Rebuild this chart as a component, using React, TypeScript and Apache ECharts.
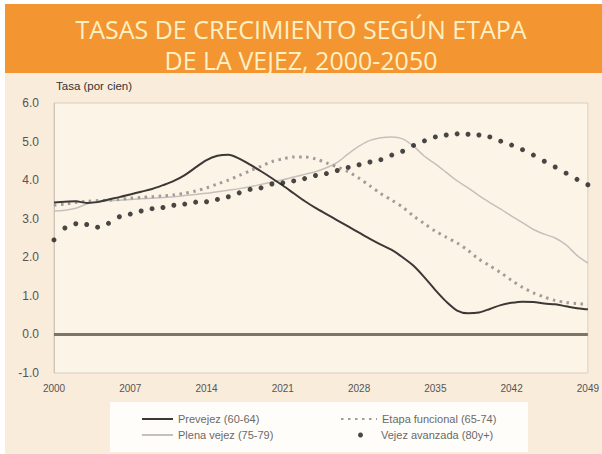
import React, { useEffect, useRef } from "react";
import * as echarts from "echarts";

const years: string[] = [];
for (let y = 2000; y <= 2049; y++) years.push(String(y));

const prevejez = [
  3.42, 3.44, 3.45, 3.41, 3.43, 3.5, 3.56, 3.63, 3.7, 3.77,
  3.87, 3.98, 4.13, 4.33, 4.52, 4.63, 4.66, 4.56, 4.4, 4.23,
  4.05, 3.86, 3.66, 3.46, 3.28, 3.12, 2.96, 2.8, 2.64, 2.48,
  2.33, 2.19, 2.0, 1.78, 1.48, 1.15, 0.85, 0.62, 0.55, 0.57,
  0.66, 0.76, 0.82, 0.85, 0.84, 0.8, 0.78, 0.73, 0.68, 0.65,
];

const etapaFuncional = [
  3.35, 3.38, 3.42, 3.45, 3.47, 3.48, 3.5, 3.53, 3.55, 3.57,
  3.59, 3.62, 3.66, 3.72, 3.8, 3.9, 4.0, 4.12, 4.24, 4.36,
  4.48, 4.55, 4.6, 4.6, 4.55, 4.45, 4.34, 4.22, 4.05, 3.85,
  3.65, 3.48, 3.3, 3.07, 2.87, 2.68, 2.52, 2.37, 2.18, 1.95,
  1.78, 1.6, 1.4, 1.22, 1.08, 0.97, 0.88, 0.83, 0.8, 0.78,
];

const plenaVejez = [
  3.2, 3.22, 3.27, 3.38, 3.45, 3.47, 3.48, 3.5, 3.52, 3.53,
  3.55, 3.57, 3.6, 3.63, 3.66, 3.7, 3.74, 3.78, 3.83, 3.89,
  3.95, 4.01, 4.08, 4.15, 4.22, 4.32, 4.46, 4.68, 4.88, 5.03,
  5.1, 5.12, 5.07, 4.88, 4.62, 4.42, 4.2, 3.98, 3.8, 3.6,
  3.42, 3.25, 3.07, 2.9, 2.72, 2.6, 2.5, 2.32, 2.05, 1.85,
];

const vejezAvanzada = [
  2.45, 2.76, 2.87, 2.85, 2.78, 2.88, 3.05, 3.12, 3.2, 3.26,
  3.29, 3.35, 3.38, 3.43, 3.44, 3.5, 3.57, 3.67, 3.76, 3.8,
  3.9, 3.93, 3.98, 4.04, 4.12, 4.17, 4.25, 4.33, 4.4, 4.47,
  4.53, 4.65, 4.75, 4.9, 5.02, 5.12, 5.17, 5.2, 5.19, 5.17,
  5.12, 5.01, 4.91, 4.79, 4.65, 4.49, 4.34, 4.18, 4.02, 3.88,
];

const seriesNames = [
  "Prevejez (60-64)",
  "Plena vejez (75-79)",
  "Etapa funcional (65-74)",
  "Vejez avanzada (80y+)",
];

const titleText = "TASAS DE CRECIMIENTO SEGÚN ETAPA\nDE LA VEJEZ, 2000-2050";
const yAxisName = "Tasa (por cien)";

export default function App() {
  const ref = useRef<HTMLDivElement>(null);
  useEffect(() => {
    document.body.style.margin = "0";
    if (!ref.current) return;
    const chart = echarts.init(ref.current, null, { renderer: "svg" });
    const font = "Liberation Sans, Arial, sans-serif";
    const legendText = { fontSize: 11, lineHeight: 14, color: "#6a6a6a", fontFamily: font };
    const legendBase = { orient: "horizontal", padding: 0, itemGap: 0, textStyle: legendText };
    chart.setOption({
      animation: false,
      backgroundColor: "#ffffff",
      textStyle: { fontFamily: font },
      graphic: [
        {
          type: "rect",
          z: -10,
          shape: { x: 5, y: 72, width: 597, height: 382 },
          style: { fill: "#f9ecda" },
          silent: true,
        },
        {
          type: "rect",
          z: -5,
          shape: { x: 5, y: 4, width: 597, height: 69 },
          style: { fill: "#f39531" },
          silent: true,
        },
        {
          type: "rect",
          z: -5,
          shape: { x: 110, y: 402, width: 418, height: 50 },
          style: { fill: "#fffdf9" },
          silent: true,
        },
      ],
      title: {
        text: titleText,
        left: "center",
        top: 8,
        textStyle: {
          fontFamily: "Open Sans, sans-serif",
          fontSize: 25,
          fontWeight: "normal",
          lineHeight: 31,
          color: "#fdf0c4",
        },
      },
      legend: [
        {
          ...legendBase,
          left: 141,
          top: 412,
          itemWidth: 31,
          itemHeight: 10,
          data: [{ name: seriesNames[0], itemStyle: { opacity: 0 } }],
        },
        {
          ...legendBase,
          left: 141,
          top: 428,
          itemWidth: 31,
          itemHeight: 10,
          data: [{ name: seriesNames[1], itemStyle: { opacity: 0 } }],
        },
        {
          ...legendBase,
          left: 340,
          top: 412,
          itemWidth: 36,
          itemHeight: 10,
          data: [{ name: seriesNames[2], itemStyle: { opacity: 0 } }],
        },
        {
          ...legendBase,
          left: 358,
          top: 428,
          itemWidth: 5,
          itemHeight: 5,
          textStyle: { ...legendText, padding: [0, 0, 0, 13] },
          data: [{ name: seriesNames[3], icon: "circle", itemStyle: { color: "#1a1a1a" } }],
        },
      ],
      grid: {
        left: 54,
        right: 9,
        top: 103,
        bottom: 81,
        show: true,
        backgroundColor: "#fdf4e8",
        borderColor: "#d9cfc2",
        borderWidth: 1,
      },
      xAxis: {
        type: "category",
        data: years,
        boundaryGap: false,
        axisLine: { show: true, lineStyle: { color: "#cfc5b8" } },
        axisTick: { show: false },
        axisLabel: {
          interval: 6,
          color: "#555",
          fontSize: 10,
          margin: 10,
        },
        splitLine: { show: false },
      },
      yAxis: {
        type: "value",
        min: -1,
        max: 6,
        interval: 1,
        name: yAxisName,
        nameLocation: "end",
        nameGap: 11,
        nameTextStyle: { align: "left", color: "#333", fontSize: 11.5, padding: [0, 0, 0, 2] },
        axisLine: { show: true, lineStyle: { color: "#cfc5b8" } },
        axisTick: { show: false },
        axisLabel: {
          color: "#555",
          fontSize: 12,
          margin: 15,
          formatter: (v: number) => v.toFixed(1),
        },
        splitLine: { show: false },
      },
      series: [
        {
          name: seriesNames[0],
          type: "line",
          data: prevejez,
          symbol: "none",
          smooth: 0.3,
          z: 4,
          lineStyle: { color: "#3b3835", width: 2 },
          itemStyle: { color: "#3b3835" },
          markLine: {
            silent: true,
            symbol: "none",
            label: { show: false },
            lineStyle: { color: "#7d7467", width: 3, type: "solid" },
            data: [{ yAxis: 0 }],
          },
        },
        {
          name: seriesNames[1],
          type: "line",
          data: plenaVejez,
          symbol: "none",
          smooth: 0.3,
          z: 2,
          lineStyle: { color: "#c4c0bb", width: 1.5 },
          itemStyle: { color: "#c4c0bb" },
        },
        {
          name: seriesNames[2],
          type: "line",
          data: etapaFuncional,
          symbol: "none",
          smooth: 0.3,
          z: 3,
          lineStyle: { color: "#a09c98", width: 3, type: [2.5, 4.5] },
          itemStyle: { color: "#a09c98" },
        },
        {
          name: seriesNames[3],
          type: "scatter",
          data: vejezAvanzada,
          symbol: "circle",
          symbolSize: 5,
          z: 5,
          itemStyle: { color: "#1a1a1a" },
        },
      ],
    });
    return () => chart.dispose();
  }, []);
  return <div ref={ref} style={{ width: 602, height: 454 }} />;
}
